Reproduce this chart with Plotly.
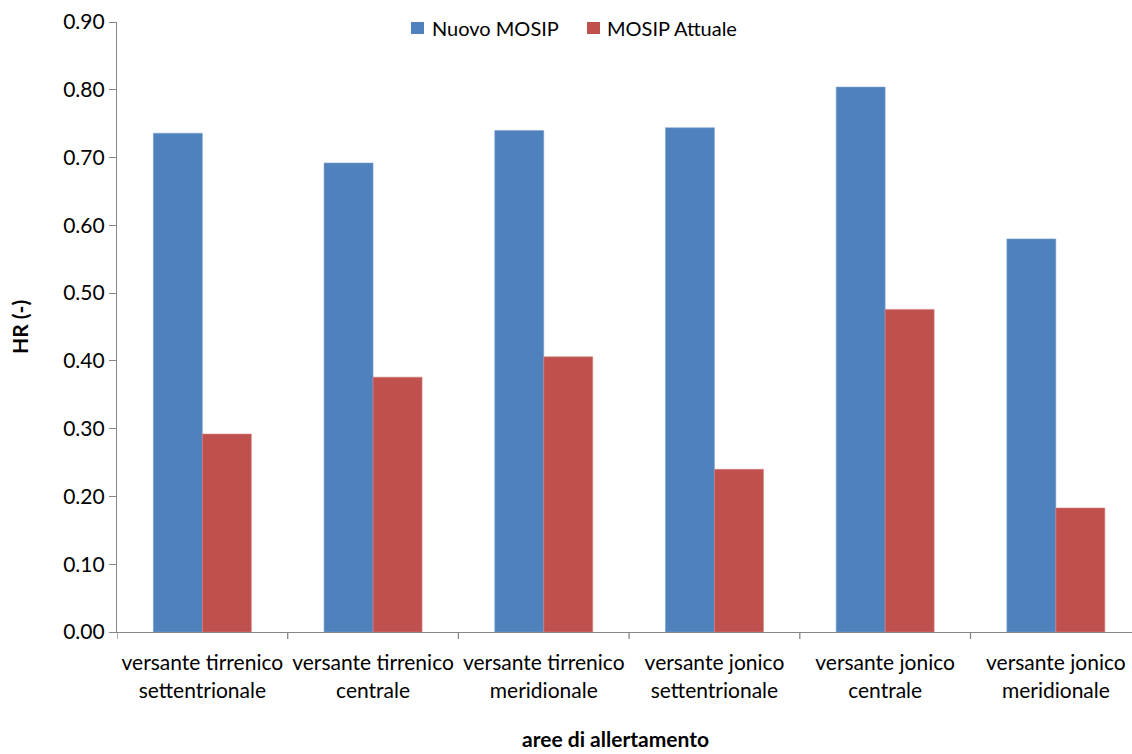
import plotly.graph_objects as go

categories = [
    "versante tirrenico<br>settentrionale",
    "versante tirrenico<br>centrale",
    "versante tirrenico<br>meridionale",
    "versante jonico<br>settentrionale",
    "versante jonico<br>centrale",
    "versante jonico<br>meridionale",
]
nuovo_mosip = [0.736, 0.692, 0.740, 0.744, 0.804, 0.580]
mosip_attuale = [0.292, 0.376, 0.406, 0.240, 0.476, 0.183]
y_ticks = [0.0, 0.1, 0.2, 0.3, 0.4, 0.5, 0.6, 0.7, 0.8, 0.9]

series_names = ["Nuovo MOSIP", "MOSIP Attuale"]
series_colors = ["#4F81BD", "#C0504D"]
series_edges = ["#7FA3D0", "#D47F7D"]

FONT = "Lato, 'Open Sans', sans-serif"
AXIS_GREY = "#868686"

# plot-area geometry in pixels (used to place the custom legend and titles)
W, H = 1132, 754
L, R, T, B = 117, 0, 22, 122
PW, PH = W - L - R, H - T - B


def px_x(p):
    return (p - L) / PW


def px_y(p):
    return (H - B - p) / PH


fig = go.Figure()
for name, vals, col, edge in zip(series_names, [nuovo_mosip, mosip_attuale], series_colors, series_edges):
    fig.add_trace(go.Bar(
        name=name, x=list(range(len(categories))), y=vals,
        marker=dict(color=col, line=dict(color=edge, width=0.6)),
    ))

fig.update_layout(
    width=W, height=H,
    margin=dict(l=L, r=R, t=T, b=B, autoexpand=False),
    paper_bgcolor="white", plot_bgcolor="white",
    barmode="group", bargap=0.426, bargroupgap=0,
    font=dict(family=FONT, size=21, color="#000000"),
    showlegend=False,
)

# legend: coloured squares followed by series names
legend_items = [(411, 430), (587, 605)]
for (sq_x, tx_x), name, col in zip(legend_items, series_names, series_colors):
    fig.add_shape(
        type="rect", xref="paper", yref="paper",
        x0=px_x(sq_x), x1=px_x(sq_x + 13), y0=px_y(34), y1=px_y(22),
        fillcolor=col, line=dict(width=0),
    )
    fig.add_annotation(
        xref="paper", yref="paper", x=px_x(tx_x), y=px_y(28),
        xanchor="left", yanchor="middle", showarrow=False,
        text=name, font=dict(family=FONT, size=20, color="#000000"),
    )

# axis titles
fig.add_annotation(
    xref="paper", yref="paper", x=px_x(615), y=px_y(738),
    xanchor="center", yanchor="middle", showarrow=False,
    text="<b>aree di allertamento</b>", font=dict(family=FONT, size=21, color="#000000"),
)
fig.add_annotation(
    xref="paper", yref="paper", x=px_x(19), y=px_y(327),
    xanchor="center", yanchor="middle", showarrow=False, textangle=-90,
    text="<b>HR (-)</b>", font=dict(family=FONT, size=21, color="#000000"),
)

fig.update_xaxes(
    range=[-0.5, -0.5 + PW / 170.7],
    tickmode="array", tickvals=list(range(len(categories))), ticktext=categories,
    showgrid=False, zeroline=False,
    showline=True, linecolor=AXIS_GREY, linewidth=1.3,
    ticks="", ticklabelstandoff=12,
    tickfont=dict(family=FONT, size=21, color="#000000"),
)
# category boundary tick marks below the x axis
for b in range(len(categories) + 1):
    fig.add_shape(
        type="line", xref="x", yref="paper",
        x0=b - 0.5, x1=b - 0.5, y0=0, y1=-7 / PH,
        line=dict(color=AXIS_GREY, width=1.3),
    )

fig.update_yaxes(
    range=[0, 0.9],
    tickmode="array", tickvals=y_ticks, ticktext=[f"{v:.2f}" for v in y_ticks],
    showgrid=False, zeroline=False,
    showline=True, linecolor=AXIS_GREY, linewidth=1.3,
    ticks="outside", ticklen=7, tickcolor=AXIS_GREY, tickwidth=1.3,
    tickfont=dict(family=FONT, size=21, color="#000000"),
)

fig.write_html("out.html")
